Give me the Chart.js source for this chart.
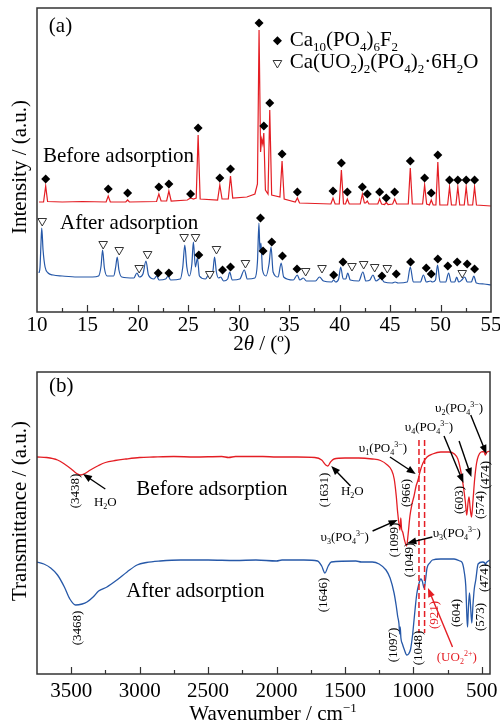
<!DOCTYPE html>
<html>
<head>
<meta charset="utf-8">
<script src="https://cdn.jsdelivr.net/npm/chart.js@4/dist/chart.umd.min.js"></script>
<style>
  body { margin: 0; background: #fff; }
  canvas { position: absolute; left: 0; }
  #xrd { top: 0; }
  #ftir { top: 360px; }
</style>
</head>
<body>
<canvas id="xrd" width="500" height="355"></canvas>
<canvas id="ftir" width="500" height="365"></canvas>
<script>
// ---- panel (a): XRD, [2theta, intensity] ----
const xrdBefore = [[10.2,110],[10.65,110],[10.86,126],[11.05,110.5],[12.5,110],[14.5,110.5],[16.85,110],[17.06,116],[17.27,110],
  [18.8,110],[18.98,112],[19.16,110],[21.85,110.5],[22.08,118],[22.3,111],[22.85,111],[23.07,121],[23.3,111],[24.9,112],
  [25.22,114],[25.5,113],[25.78,114],[25.97,177],[26.17,113],[27.9,112],[28.12,127],[28.34,113],[28.96,113],[29.18,136],
  [29.4,114],[30.8,115],[31.6,118],[31.85,128],[32.01,282],[32.16,160],[32.27,173],[32.38,168],[32.48,179],[32.64,122],
  [32.9,118],[33.07,202],[33.26,117],[34.08,115],[34.29,151],[34.5,113],[35.6,110],[35.81,114],[36.02,109],[39.13,108],
  [39.34,114],[39.55,108],[39.96,108],[40.17,142],[40.38,108],[40.58,108],[40.76,113],[40.95,108],[42.04,108],[42.25,118],
  [42.45,109],[42.58,109],[42.74,111],[42.9,108],[43.78,108],[43.96,113],[44.15,108],[44.45,107.5],[44.62,109.5],[44.8,107.5],
  [45.25,108],[45.45,113],[45.65,108],[46.8,108],[47.0,144],[47.2,108],[48.22,108],[48.42,127],[48.62,108],[48.9,107],
  [49.08,112],[49.27,107],[49.54,107],[49.73,150],[49.93,107],[50.7,107],[50.89,125],[51.08,107],[51.52,107],[51.71,125],
  [51.9,107],[52.35,107],[52.54,125],[52.73,107],[53.18,107],[53.37,125],[53.56,107],[55,106]];

const xrdAfter = [[10.2,39],[10.3,45],[10.4,70],[10.47,84],[10.6,62],[10.8,45],[11.1,39],[11.6,37],[12.5,36],[14,35],[15.5,35],
  [16.1,36],[16.35,46],[16.5,62],[16.68,44],[16.95,36],[17.6,36],[17.8,45],[17.95,55],[18.12,42],[18.4,35],[19.6,34],[19.9,39],
  [20.15,35],[20.5,38],[20.8,51],[21.05,37],[21.6,33],[21.85,36],[22.1,32],[22.75,33],[23.0,36],[23.25,32],[24.2,33],[24.45,45],
  [24.65,67],[24.85,45],[25.1,36],[25.35,48],[25.5,70],[25.7,45],[25.9,54],[26.1,36],[26.7,33],[27.0,37],[27.25,35],[27.45,42],
  [27.6,55],[27.78,40],[28.0,34],[28.2,35],[28.5,31],[28.9,33],[29.1,40],[29.35,32],[30.1,33],[30.55,42],[30.85,33],[31.6,34],
  [31.85,50],[32.0,89],[32.1,60],[32.2,69],[32.35,42],[32.7,36],[33.0,48],[33.2,65],[33.4,40],[33.9,35],[34.2,49],[34.45,35],
  [35.4,32],[35.8,37],[36.05,32],[36.4,34],[36.7,31],[37.6,31],[38.0,35],[38.4,31],[39.2,30],[39.4,32],[39.6,30],[39.9,33],
  [40.1,45],[40.35,33],[40.6,33],[40.8,39],[41.05,32],[41.9,31],[42.3,40],[42.6,31],[43.0,32],[43.3,37],[43.6,31],[44.1,34],
  [44.4,30],[45.2,29],[45.5,30],[45.8,29],[46.7,30],[47.0,45],[47.3,30],[48.0,30],[48.3,37],[48.6,30],[49.0,31],[49.2,30],
  [49.5,32],[49.7,47],[49.95,30],[50.5,30],[50.8,39],[51.05,30],[51.4,30],[51.6,35],[51.8,30],[52.1,32],[52.4,35],[52.65,30],
  [53.05,30],[53.3,36],[53.55,29],[54.3,28],[55,27]];

// phase markers: Ca10(PO4)6F2 (diamonds) and Ca(UO2)2(PO4)2.6H2O (triangles)
const apatiteBefore = [[10.86,133],[17.06,123],[18.98,119],[22.08,125],[23.07,128],[25.22,118],[25.97,184],[28.12,134],
  [29.18,143],[32.01,289],[32.48,186],[33.07,209],[34.29,158],[35.81,120],[39.34,121],[40.17,149],[40.76,120],[42.25,125],
  [42.74,118],[43.96,120],[44.62,114],[45.45,120],[47.0,151],[48.42,134],[49.08,119],[49.73,157],[50.89,132],[51.71,132],
  [52.54,132],[53.37,132]];
const apatiteAfter = [[22.01,39],[23.07,39],[26.04,57],[28.39,42],[29.18,45],[32.15,94],[32.41,61],[33.27,70],[34.33,56],
  [35.77,43],[39.41,37],[40.33,50],[44.19,36],[45.61,38],[47.03,50],[48.58,44],[49.08,38],[49.73,53],[50.72,46],[51.65,50],
  [52.64,48],[53.37,43]];
const uranylAfter = [[10.52,91],[16.56,68],[18.15,62],[20.13,44],[20.96,58],[24.58,75],[25.71,75],[27.13,38],[27.79,63],
  [30.66,49],[36.63,41],[38.25,44],[41.22,46],[42.38,48],[43.47,45],[44.72,44],[52.15,39]];

const xrdTicks = [10, 15, 20, 25, 30, 35, 40, 45, 50, 55];
const xrdMinor = [12.5, 17.5, 22.5, 27.5, 32.5, 37.5, 42.5, 47.5, 52.5];

// ---- panel (b): FTIR, [wavenumber, transmittance] ----
const ftirBefore = [[3750,217],[3680,216.5],[3600,214],[3550,210],[3500,205],[3460,200.5],[3430,199],[3400,200.5],[3360,204],
  [3300,208.5],[3250,211.5],[3180,213.5],[3100,215],[3000,216.5],[2900,217],[2750,217.5],[2600,217],[2400,217.5],[2350,216.5],
  [2300,217.5],[2100,217.5],[2000,217],[1850,217],[1720,216.5],[1670,214],[1640,209],[1625,208],[1605,212],[1580,215],
  [1500,216],[1400,216],[1300,215],[1240,213.5],[1190,209],[1160,204],[1140,195],[1125,178],[1115,162],[1105,150],[1098,144],
  [1092,156],[1086,145],[1078,142],[1065,134],[1049,128],[1038,140],[1025,158],[1010,170],[995,178],[980,188],[966,194],
  [950,203],[930,211],[900,217],[860,220],[800,222],[740,222],[700,220],[675,215],[655,204],[635,188],[620,172],[610,159],
  [600,172],[593,177],[585,166],[575,157],[565,172],[552,195],[538,211],[525,218],[505,222],[484,222.5],[474,219],
  [465,221.5],[440,223]];

const ftirAfter = [[3750,112],[3700,110],[3650,106],[3600,99],[3550,87],[3510,75],[3468,69],[3420,70],[3385,72],[3340,77],
  [3300,83],[3239,87],[3166,94],[3092,102],[3019,109],[2950,111.5],[2850,113],[2700,114],[2500,114],[2300,113.5],[2150,114],
  [2000,113],[1960,114],[1800,114],[1700,113],[1670,108],[1646,101],[1622,108],[1600,112],[1420,113],[1380,112],[1300,112],
  [1250,110],[1200,104],[1170,96],[1141,81],[1125,68],[1115,58],[1105,50],[1100,40],[1096,47],[1091,36],[1080,30],[1065,24],
  [1048,19],[1035,20],[1020,25],[1005,40],[995,54],[985,68],[975,80],[960,90],[945,95],[935,93],[921,86],[912,93],[900,106],
  [880,111],[861,114],[800,115],[703,115],[660,113],[642,111],[627,101],[617,88],[608,55],[604,47],[599,62],[590,81],
  [583,70],[573,51],[565,68],[555,85],[544,94],[527,110],[495,112],[478,111],[474,109],[468,111],[440,114]];

const uranylBands = [959, 918];
const ftirTicks = [500, 1000, 1500, 2000, 2500, 3000, 3500];
const ftirMinor = [750, 1250, 1750, 2250, 2750, 3250];

// ---- helpers ----
const SERIF = '"Liberation Serif", "Times New Roman", serif';
const RED = 'rgb(228,30,36)';
const BLUE = 'rgb(38,88,168)';
const pts = arr => arr.map(p => ({ x: p[0], y: p[1] }));

// "_{..}" subscript, "^{..}" superscript, "*{..}" italic
function parseRich(s) {
  const out = [], re = /([_^*])\{([^}]*)\}|([^_^*]+)/g;
  let m;
  while ((m = re.exec(s))) out.push(m[3] !== undefined ? [m[3], ''] : [m[2], m[1]]);
  return out;
}
function partFont(mode, size) {
  if (mode === '_' || mode === '^') return Math.round(size * 0.62) + 'px ' + SERIF;
  if (mode === '*') return 'italic ' + size + 'px ' + SERIF;
  return size + 'px ' + SERIF;
}
function drawRich(ctx, s, x, y, o) {
  o = o || {};
  const size = o.size || 20, parts = parseRich(s);
  ctx.save();
  ctx.translate(x, y);
  if (o.rotate) ctx.rotate(-Math.PI / 2);
  ctx.fillStyle = o.color || '#000';
  ctx.textBaseline = 'alphabetic';
  ctx.textAlign = 'left';
  let w = 0;
  parts.forEach(p => { ctx.font = partFont(p[1], size); w += ctx.measureText(p[0]).width; });
  let cx = o.align === 'left' ? 0 : -w / 2;
  parts.forEach(p => {
    ctx.font = partFont(p[1], size);
    const dy = p[1] === '_' ? size * 0.22 : p[1] === '^' ? -size * 0.38 : 0;
    ctx.fillText(p[0], cx, size * 0.33 + dy);
    cx += ctx.measureText(p[0]).width;
  });
  ctx.restore();
}
function arrow(ctx, x1, y1, x2, y2, color) {
  const a = Math.atan2(y2 - y1, x2 - x1), L = 9, W = 3.5;
  ctx.save();
  ctx.strokeStyle = ctx.fillStyle = color || '#000';
  ctx.lineWidth = 1.4;
  ctx.beginPath();
  ctx.moveTo(x1, y1);
  ctx.lineTo(x2 - Math.cos(a) * L * 0.8, y2 - Math.sin(a) * L * 0.8);
  ctx.stroke();
  ctx.beginPath();
  ctx.moveTo(x2, y2);
  ctx.lineTo(x2 - L * Math.cos(a) + W * Math.sin(a), y2 - L * Math.sin(a) - W * Math.cos(a));
  ctx.lineTo(x2 - L * Math.cos(a) - W * Math.sin(a), y2 - L * Math.sin(a) + W * Math.cos(a));
  ctx.closePath();
  ctx.fill();
  ctx.restore();
}
function frameAndTicks(ctx, area, xs, major, minor) {
  ctx.save();
  ctx.strokeStyle = '#333';
  ctx.lineWidth = 1.5;
  ctx.strokeRect(area.left, area.top, area.right - area.left, area.bottom - area.top);
  ctx.lineWidth = 1.2;
  ctx.beginPath();
  major.concat(minor).forEach(v => {
    const px = Math.round(xs.getPixelForValue(v)) + 0.5;
    if (px <= area.left + 2 || px >= area.right - 2) return;
    ctx.moveTo(px, area.bottom);
    ctx.lineTo(px, area.bottom - (major.includes(v) ? 7 : 4));
  });
  ctx.stroke();
  ctx.restore();
}
function diamond(ctx, x, y, r) {
  ctx.beginPath();
  ctx.moveTo(x, y - r); ctx.lineTo(x + r, y); ctx.lineTo(x, y + r); ctx.lineTo(x - r, y);
  ctx.closePath();
  ctx.fillStyle = '#000';
  ctx.fill();
}
function triangleDown(ctx, x, y, r) {
  ctx.beginPath();
  ctx.moveTo(x - r * 0.87, y - r * 0.5); ctx.lineTo(x + r * 0.87, y - r * 0.5); ctx.lineTo(x, y + r);
  ctx.closePath();
  ctx.fillStyle = '#fff';
  ctx.fill();
  ctx.strokeStyle = '#333';
  ctx.lineWidth = 1;
  ctx.stroke();
}

function xAxis(min, max, ticks, reverse, pad, height) {
  return {
    type: 'linear', min: min, max: max, reverse: reverse,
    grid: { display: false },
    border: { display: false },
    afterBuildTicks: s => { s.ticks = ticks.map(v => ({ value: v })); },
    afterFit: s => { s.height = height; s.paddingLeft = 0; s.paddingRight = 0; },
    ticks: { color: '#000', padding: pad, font: { family: SERIF, size: 21 }, callback: v => String(v) }
  };
}
const commonPlugins = { legend: { display: false }, tooltip: { enabled: false } };

// ---- chart (a) ----
const xrdDecor = {
  id: 'xrdDecor',
  afterDatasetsDraw(chart) {
    const { ctx, chartArea: a, scales: { x, y } } = chart;
    frameAndTicks(ctx, a, x, xrdTicks, xrdMinor);
    const X = v => x.getPixelForValue(v), Y = v => y.getPixelForValue(v);
    drawRich(ctx, '(a)', X(12.33), Y(287), { size: 21 });
    diamond(ctx, X(33.83), Y(271.3), 4.5);
    drawRich(ctx, 'Ca_{10}(PO_{4})_{6}F_{2}', X(35.05), Y(273), { size: 21, align: 'left' });
    triangleDown(ctx, X(33.83), Y(249), 5);
    drawRich(ctx, 'Ca(UO_{2})_{2}(PO_{4})_{2}·6H_{2}O', X(35.05), Y(251), { size: 21, align: 'left' });
    drawRich(ctx, 'Before adsorption', X(10.59), Y(157), { size: 21, align: 'left' });
    drawRich(ctx, 'After adsorption', X(12.28), Y(90), { size: 21, align: 'left' });
    drawRich(ctx, 'Intensity / (a.u.)', 19, 167, { size: 21, rotate: true });
    drawRich(ctx, '2*{θ} / (º)', 262, 343, { size: 21 });
  }
};

new Chart(document.getElementById('xrd'), {
  type: 'scatter',
  data: {
    datasets: [
      { data: pts(apatiteBefore), pointStyle: 'rectRot', pointRadius: 4.5, backgroundColor: '#000', borderWidth: 0, order: 0 },
      { data: pts(apatiteAfter), pointStyle: 'rectRot', pointRadius: 4.5, backgroundColor: '#000', borderWidth: 0, order: 0 },
      { data: pts(uranylAfter), pointStyle: 'triangle', rotation: 180, pointRadius: 5, backgroundColor: '#fff',
        borderColor: '#333', borderWidth: 1, order: 0 },
      { data: pts(xrdBefore), showLine: true, borderColor: RED, borderWidth: 1.2, pointRadius: 0, order: 1 },
      { data: pts(xrdAfter), showLine: true, borderColor: BLUE, borderWidth: 1.2, pointRadius: 0,
        cubicInterpolationMode: 'monotone', order: 1 }
    ]
  },
  options: {
    responsive: false, animation: false, devicePixelRatio: 1,
    layout: { padding: { left: 37, right: 9, top: 8, bottom: 0 } },
    scales: {
      x: xAxis(10, 55, xrdTicks, false, -7, 43),
      y: { type: 'linear', min: 0, max: 304, display: false }
    },
    plugins: commonPlugins
  },
  plugins: [xrdDecor]
});

// ---- chart (b) ----
const ftirNotes = [
  ['(b)', 3573, 289, { size: 21 }],
  ['(3438)', 3478, 183, { rotate: true }],
  ['H_{2}O', 3251, 172, {}],
  ['Before adsorption', 3024, 186, { size: 21, align: 'left' }],
  ['(1631)', 1654, 184, { rotate: true }],
  ['H_{2}O', 1446, 183, {}],
  ['υ_{1}(PO_{4}^{3−})', 1222, 226, {}],
  ['(966)', 1056, 181, { rotate: true }],
  ['υ_{4}(PO_{4}^{3−})', 886, 247, {}],
  ['υ_{2}(PO_{4}^{3−})', 666, 266, {}],
  ['(603)', 666, 174, { rotate: true }],
  ['(574)', 512, 169, { rotate: true }],
  ['(474)', 476, 199, { rotate: true }],
  ['(1099)', 1142, 134, { rotate: true }],
  ['(1049)', 1032, 114, { rotate: true }],
  ['υ_{3}(PO_{4}^{3−})', 1502, 137, {}],
  ['υ_{3}(PO_{4}^{3−})', 683, 141, {}],
  ['After adsorption', 3098, 84, { size: 21, align: 'left' }],
  ['(3468)', 3463, 46, { rotate: true }],
  ['(1646)', 1666, 79, { rotate: true }],
  ['(1097)', 1153, 29, { rotate: true }],
  ['(1048)', 970, 26, { rotate: true }],
  ['(921)', 849, 59, { rotate: true, color: RED }],
  ['(UO_{2}^{2+})', 683, 17, { color: RED }],
  ['(604)', 690, 61, { rotate: true }],
  ['(573)', 512, 57, { rotate: true }],
  ['(474)', 488, 96, { rotate: true }]
];
const ftirArrows = [
  [3251, 185, 3414, 200], [1459, 188, 1600, 208], [1171, 217, 983, 200], [776, 238, 634, 191],
  [666, 233, 576, 197], [581, 259, 466, 220], [1298, 143, 1115, 154], [861, 137, 1044, 131]
];

const ftirDecor = {
  id: 'ftirDecor',
  afterDatasetsDraw(chart) {
    const { ctx, chartArea: a, scales: { x, y } } = chart;
    const X = v => x.getPixelForValue(v), Y = v => y.getPixelForValue(v);
    ctx.save();
    ctx.strokeStyle = RED;
    ctx.lineWidth = 1.5;
    ctx.setLineDash([6, 3]);
    uranylBands.forEach(w => {
      ctx.beginPath();
      ctx.moveTo(X(w), Y(234));
      ctx.lineTo(X(w), Y(41));
      ctx.stroke();
    });
    ctx.restore();
    frameAndTicks(ctx, a, x, ftirTicks, ftirMinor);
    ftirNotes.forEach(n => drawRich(ctx, n[0], X(n[1]), Y(n[2]), Object.assign({ size: 13 }, n[3])));
    ftirArrows.forEach(r => arrow(ctx, X(r[0]), Y(r[1]), X(r[2]), Y(r[3]), '#000'));
    arrow(ctx, X(714), Y(27), X(893), Y(86), RED);
    drawRich(ctx, 'Transmittance / (a.u.)', 19, 151, { size: 21, rotate: true });
    drawRich(ctx, 'Wavenumber / cm^{−1}', 273, 353, { size: 21 });
  }
};

new Chart(document.getElementById('ftir'), {
  type: 'scatter',
  data: {
    datasets: [
      { data: pts(ftirBefore), showLine: true, borderColor: RED, borderWidth: 1.3, pointRadius: 0,
        cubicInterpolationMode: 'monotone' },
      { data: pts(ftirAfter), showLine: true, borderColor: BLUE, borderWidth: 1.3, pointRadius: 0,
        cubicInterpolationMode: 'monotone' }
    ]
  },
  options: {
    responsive: false, animation: false, devicePixelRatio: 1,
    layout: { padding: { left: 37, right: 10, top: 12, bottom: 0 } },
    scales: {
      x: xAxis(440, 3750, ftirTicks, true, -3, 51),
      y: { type: 'linear', min: 0, max: 302, display: false }
    },
    plugins: commonPlugins
  },
  plugins: [ftirDecor]
});
</script>
</body>
</html>
